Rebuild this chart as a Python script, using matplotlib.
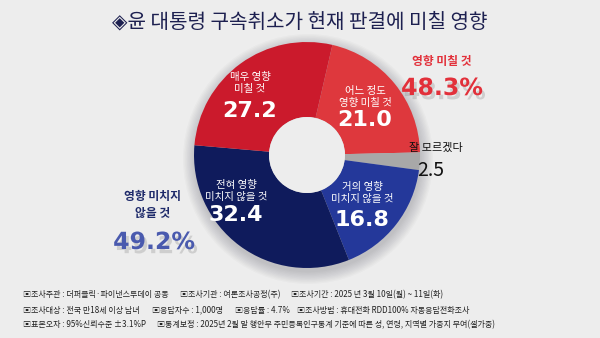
import matplotlib
matplotlib.use("Agg")
import matplotlib.pyplot as plt
import matplotlib.patheffects as pe
from matplotlib.patches import Circle

plt.rcParams['font.family'] = ['Noto Sans CJK KR', 'DejaVu Sans']

# survey results, clockwise from the top
labels = ['어느 정도\n영향 미칠 것', '잘 모르겠다', '거의 영향\n미치지 않을 것',
          '전혀 영향\n미치지 않을 것', '매우 영향\n미칠 것']
values = [21.0, 2.5, 16.8, 32.4, 27.2]
colors = ['#DE383D', '#A8A8A8', '#24389A', '#0F1B5C', '#CB1A2C']

affect_total = 48.3
no_affect_total = 49.2

title = '◈윤 대통령 구속취소가 현재 판결에 미칠 영향'
footer = [
    ['▣조사주관 : 더퍼블릭·파이낸스투데이 공동', '▣조사기관 : 여론조사공정(주)',
     '▣조사기간 : 2025 년 3월 10일(월) ~ 11일(화)'],
    ['▣조사대상 : 전국 만18세 이상 남녀', '▣응답자수 : 1,000명', '▣응답률 : 4.7%',
     '▣조사방법 : 휴대전화 RDD100% 자동응답전화조사'],
    ['▣표본오차 : 95%신뢰수준 ±3.1%P',
     '▣통계보정 : 2025년 2월 말 행안부 주민등록인구통계 기준에 따른 성, 연령, 지역별 가중치 부여(셀가중)'],
]
footer_x = [[23, 180, 291], [23, 152, 235, 297], [23, 157]]
footer_y = [295, 310, 325]

W, H = 600, 338
cx, cy, r_out, r_in = 307, 155, 113, 38
BG = '#EDEDED'

fig = plt.figure(figsize=(6, 3.38), dpi=100)
fig.patch.set_facecolor(BG)

# background layer with soft shadow behind the donut
bg = fig.add_axes([0, 0, 1, 1], zorder=0)
bg.set_xlim(0, W)
bg.set_ylim(H, 0)
bg.axis('off')
for k in range(10):
    bg.add_patch(Circle((cx + 1, cy + 4), r_out + 12 - k * 1.3,
                        color='#2a2a3a', alpha=0.022, lw=0))

# donut
pax = fig.add_axes([(cx - r_out) / W, (H - cy - r_out) / H,
                    2 * r_out / W, 2 * r_out / H], zorder=1)
pax.pie(values, colors=colors, startangle=77, counterclock=False,
        radius=1, wedgeprops=dict(width=1 - r_in / r_out, linewidth=0))
pax.add_patch(Circle((0, 0), r_in / r_out, color=BG, lw=0))
pax.set_xlim(-1, 1)
pax.set_ylim(-1, 1)
pax.axis('off')

# text layer
ax = fig.add_axes([0, 0, 1, 1], zorder=2)
ax.set_xlim(0, W)
ax.set_ylim(H, 0)
ax.axis('off')
ax.patch.set_alpha(0)

ax.text(300, 22, title, ha='center', va='center', fontsize=14.5,
        color='#1D2050', fontweight='medium')

# labels inside the wedges
inner = [(365, 97, 120), None, (362, 193, 220), (236, 191, 215), (250, 83, 111)]
for lab, val, pos in zip(labels, values, inner):
    if pos is None:
        continue
    x, y_lab, y_val = pos
    ax.text(x, y_lab, lab, ha='center', va='center', fontsize=7.5,
            color='white', linespacing=1.25)
    ax.text(x, y_val, f'{val:.1f}', ha='center', va='center', fontsize=16,
            color='white', fontweight='bold', family='DejaVu Sans')

# unknown share, outside the ring
ax.text(436, 148, labels[1], ha='center', va='center', fontsize=8, color='#111111')
ax.text(431, 170, f'{values[1]:.1f}', ha='center', va='center', fontsize=14,
        color='#111111')

shadow = [pe.withSimplePatchShadow(offset=(2, -3), shadow_rgbFace='#888888', alpha=0.3)]

ax.text(442, 62, '영향 미칠 것', ha='center', va='center', fontsize=8.5,
        color='#E2303A', fontweight='bold')
ax.text(442, 88, f'{affect_total:.1f}%', ha='center', va='center', fontsize=17,
        color='#E2303A', fontweight='bold', family='DejaVu Sans', path_effects=shadow)

ax.text(153, 205, '영향 미치지\n않을 것', ha='center', va='center', fontsize=8.5,
        color='#1E2A6A', fontweight='bold', linespacing=1.35)
ax.text(154, 242, f'{no_affect_total:.1f}%', ha='center', va='center', fontsize=17,
        color='#4A5AAE', fontweight='bold', family='DejaVu Sans', path_effects=shadow)

# survey notes
for row, xs, y in zip(footer, footer_x, footer_y):
    for txt, x in zip(row, xs):
        ax.text(x, y, txt, ha='left', va='center', fontsize=5.8, color='#222222')

fig.savefig('out.png', dpi=100, facecolor=fig.get_facecolor())
